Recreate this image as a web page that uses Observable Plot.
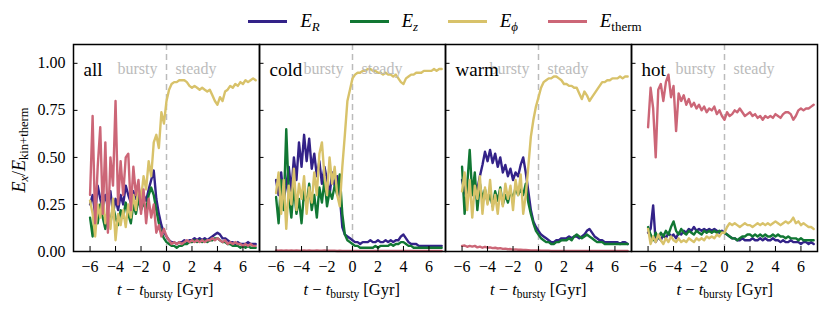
<!DOCTYPE html>
<html><head><meta charset="utf-8">
<script src="https://cdn.jsdelivr.net/npm/d3@7"></script>
<script src="https://cdn.jsdelivr.net/npm/@observablehq/plot@0.6"></script>
<style>
body{margin:0;background:#fff;font-family:"Liberation Serif","DejaVu Serif",serif;color:#000;}
#wrap{position:relative;width:830px;height:312px;overflow:hidden;}
#legend{position:relative;height:40px;width:746px;margin-left:72px;display:flex;justify-content:center;align-items:center;font-size:18.5px;padding-top:2px;box-sizing:border-box;}
.item{display:flex;align-items:center;margin:0 15px;}
.sw{display:inline-block;width:39px;height:3px;margin-right:13px;}
sub{font-size:70%;vertical-align:-0.3em;line-height:0;}
.xl{position:absolute;top:280px;font-size:16.5px;transform:translateX(-50%);white-space:nowrap;}
#yl{position:absolute;left:19px;top:150px;font-size:18px;white-space:nowrap;transform:translate(-50%,-50%) rotate(-90deg);}
svg{display:block;}
</style></head>
<body><div id="wrap"><div id="legend"></div><div id="chart"></div></div>
<script>
const t = [-6,-5.8,-5.6,-5.4,-5.2,-5,-4.8,-4.6,-4.4,-4.2,
 -4,-3.8,-3.6,-3.4,-3.2,-3,-2.8,-2.6,-2.4,-2.2,
 -2,-1.8,-1.6,-1.4,-1.2,-1,-0.8,-0.6,-0.4,-0.2,
 0,0.2,0.4,0.6,0.8,1,1.2,1.4,1.6,1.8,
 2,2.2,2.4,2.6,2.8,3,3.2,3.4,3.6,3.8,
 4,4.2,4.4,4.6,4.8,5,5.2,5.4,5.6,5.8,
 6,6.2,6.4,6.6,6.8,7];
const panels = ["all","cold","warm","hot"];
const comps = ["E_R","E_z","E_phi","E_therm"];
const colors = ["#332288","#117733","#d8c26a","#cc6677"];
const yTicks = [0,0.25,0.5,0.75,1.0];
const xTicks = [-6,-4,-2,0,2,4,6];

const allR = [0.25,0.30,0.20,0.35,0.28,0.22,0.30,0.25,0.32,0.20,
 0.28,0.22,0.30,0.25,0.35,0.30,0.26,0.32,0.28,0.30,
 0.26,0.30,0.27,0.33,0.38,0.43,0.28,0.20,0.14,0.10,
 0.08,0.06,0.05,0.05,0.04,0.05,0.05,0.06,0.05,0.06,
 0.06,0.07,0.06,0.07,0.06,0.07,0.06,0.07,0.08,0.09,
 0.10,0.09,0.07,0.07,0.06,0.05,0.05,0.04,0.05,0.04,
 0.04,0.04,0.05,0.04,0.04,0.04];
const allZ = [0.18,0.08,0.22,0.15,0.25,0.18,0.12,0.20,0.15,0.24,
 0.18,0.14,0.22,0.18,0.26,0.20,0.15,0.25,0.20,0.28,
 0.22,0.26,0.22,0.30,0.34,0.30,0.22,0.15,0.10,0.07,
 0.05,0.04,0.03,0.03,0.02,0.03,0.03,0.04,0.04,0.05,
 0.05,0.06,0.05,0.06,0.05,0.06,0.05,0.06,0.06,0.07,
 0.07,0.06,0.05,0.05,0.04,0.04,0.03,0.03,0.03,0.02,
 0.03,0.02,0.03,0.02,0.02,0.02];
const allPhi = [0.27,0.20,0.08,0.25,0.18,0.30,0.15,0.22,0.12,0.28,
 0.06,0.20,0.14,0.22,0.13,0.25,0.18,0.30,0.22,0.35,
 0.28,0.40,0.33,0.48,0.40,0.58,0.62,0.55,0.74,0.68,
 0.80,0.86,0.89,0.90,0.90,0.91,0.91,0.91,0.90,0.88,
 0.87,0.88,0.87,0.86,0.87,0.86,0.85,0.86,0.83,0.80,
 0.78,0.82,0.80,0.85,0.86,0.88,0.87,0.89,0.88,0.90,
 0.89,0.91,0.90,0.91,0.92,0.91];
const allTherm = [0.30,0.72,0.15,0.45,0.66,0.20,0.58,0.10,0.50,0.35,
 0.80,0.25,0.48,0.30,0.50,0.52,0.22,0.45,0.30,0.38,
 0.20,0.33,0.15,0.28,0.18,0.25,0.10,0.14,0.08,0.12,
 0.08,0.06,0.04,0.05,0.04,0.05,0.04,0.05,0.06,0.05,
 0.06,0.05,0.06,0.05,0.06,0.05,0.06,0.06,0.07,0.06,
 0.07,0.06,0.05,0.06,0.04,0.05,0.04,0.05,0.04,0.04,
 0.03,0.04,0.03,0.04,0.03,0.03];

const coldR = [0.38,0.30,0.42,0.28,0.35,0.45,0.32,0.50,0.38,0.58,
 0.45,0.62,0.48,0.60,0.44,0.52,0.40,0.48,0.36,0.45,
 0.38,0.30,0.42,0.35,0.40,0.30,0.13,0.09,0.08,0.07,
 0.06,0.05,0.05,0.04,0.05,0.05,0.05,0.06,0.05,0.05,
 0.06,0.05,0.05,0.06,0.05,0.06,0.05,0.06,0.06,0.08,
 0.09,0.07,0.05,0.04,0.04,0.04,0.03,0.03,0.03,0.03,
 0.03,0.03,0.03,0.03,0.03,0.03];
const coldZ = [0.29,0.15,0.38,0.22,0.65,0.30,0.18,0.35,0.20,0.28,
 0.15,0.32,0.25,0.36,0.22,0.30,0.18,0.34,0.26,0.38,
 0.24,0.32,0.28,0.35,0.30,0.41,0.20,0.09,0.06,0.05,
 0.04,0.03,0.03,0.02,0.02,0.02,0.02,0.02,0.02,0.03,
 0.02,0.03,0.03,0.03,0.03,0.04,0.03,0.04,0.04,0.05,
 0.05,0.04,0.03,0.03,0.02,0.02,0.02,0.02,0.02,0.02,
 0.02,0.02,0.02,0.02,0.02,0.02];
const coldPhi = [0.31,0.42,0.20,0.38,0.12,0.35,0.25,0.44,0.22,0.36,
 0.28,0.40,0.20,0.34,0.26,0.42,0.30,0.52,0.58,0.40,
 0.30,0.50,0.36,0.45,0.30,0.24,0.45,0.62,0.80,0.86,
 0.92,0.94,0.95,0.95,0.96,0.96,0.97,0.97,0.96,0.96,
 0.95,0.95,0.94,0.95,0.94,0.94,0.93,0.94,0.92,0.90,
 0.89,0.92,0.93,0.94,0.94,0.95,0.95,0.95,0.96,0.96,
 0.96,0.96,0.97,0.96,0.97,0.97];
const coldTherm = [0.005,0.004,0.005,0.004,0.005,0.004,0.005,0.004,0.005,0.004,
 0.004,0.005,0.004,0.005,0.004,0.004,0.005,0.004,0.004,0.005,
 0.004,0.004,0.004,0.004,0.003,0.004,0.003,0.003,0.003,0.003,
 0.003,0.003,0.003,0.003,0.003,0.003,0.003,0.003,0.003,0.003,
 0.003,0.003,0.003,0.003,0.003,0.003,0.003,0.003,0.003,0.003,
 0.003,0.003,0.003,0.003,0.003,0.003,0.003,0.003,0.003,0.003,
 0.003,0.003,0.003,0.003,0.003,0.003];

const warmR = [0.38,0.32,0.28,0.35,0.30,0.36,0.33,0.40,0.46,0.53,
 0.48,0.54,0.47,0.52,0.45,0.50,0.42,0.46,0.40,0.44,
 0.38,0.42,0.40,0.46,0.50,0.42,0.32,0.22,0.16,0.13,
 0.11,0.09,0.08,0.07,0.06,0.05,0.05,0.06,0.06,0.07,
 0.07,0.07,0.08,0.07,0.08,0.08,0.07,0.08,0.09,0.11,
 0.12,0.10,0.08,0.07,0.06,0.06,0.05,0.05,0.05,0.05,
 0.05,0.05,0.04,0.05,0.05,0.04];
const warmZ = [0.45,0.20,0.35,0.54,0.30,0.42,0.22,0.36,0.28,0.33,
 0.26,0.30,0.24,0.32,0.27,0.34,0.25,0.30,0.26,0.32,
 0.28,0.34,0.30,0.33,0.30,0.36,0.26,0.20,0.15,0.11,
 0.09,0.07,0.06,0.05,0.05,0.04,0.04,0.05,0.05,0.06,
 0.06,0.06,0.07,0.06,0.08,0.09,0.08,0.07,0.08,0.09,
 0.08,0.07,0.06,0.05,0.05,0.05,0.04,0.04,0.04,0.04,
 0.04,0.04,0.04,0.04,0.04,0.04];
const warmPhi = [0.32,0.42,0.22,0.38,0.18,0.35,0.28,0.40,0.20,0.34,
 0.25,0.38,0.22,0.30,0.20,0.33,0.24,0.36,0.28,0.35,
 0.22,0.38,0.30,0.41,0.20,0.30,0.45,0.61,0.70,0.77,
 0.82,0.87,0.90,0.91,0.92,0.92,0.93,0.93,0.92,0.91,
 0.89,0.89,0.88,0.88,0.87,0.87,0.84,0.81,0.85,0.83,
 0.80,0.82,0.84,0.86,0.88,0.90,0.90,0.91,0.91,0.92,
 0.92,0.92,0.93,0.92,0.93,0.93];
const warmTherm = [0.030,0.032,0.025,0.030,0.026,0.030,0.022,0.026,0.020,0.025,
 0.020,0.022,0.018,0.020,0.016,0.018,0.014,0.015,0.012,0.013,
 0.010,0.011,0.009,0.009,0.008,0.008,0.007,0.006,0.006,0.005,
 0.005,0.004,0.004,0.004,0.004,0.003,0.003,0.003,0.003,0.003,
 0.003,0.003,0.003,0.003,0.003,0.003,0.003,0.003,0.003,0.003,
 0.003,0.003,0.003,0.003,0.003,0.003,0.003,0.003,0.003,0.003,
 0.003,0.003,0.003,0.003,0.003,0.003];

const hotR = [0.10,0.12,0.245,0.05,0.08,0.06,0.09,0.07,0.10,0.08,
 0.09,0.07,0.10,0.09,0.11,0.10,0.12,0.11,0.13,0.11,
 0.12,0.11,0.12,0.11,0.12,0.11,0.12,0.11,0.10,0.11,
 0.10,0.09,0.08,0.07,0.07,0.06,0.06,0.07,0.06,0.06,
 0.06,0.07,0.06,0.06,0.07,0.06,0.07,0.06,0.06,0.07,
 0.06,0.06,0.05,0.06,0.05,0.05,0.06,0.05,0.05,0.05,
 0.04,0.05,0.05,0.04,0.05,0.04];
const hotZ = [0.13,0.09,0.06,0.10,0.07,0.10,0.08,0.11,0.09,0.13,
 0.16,0.11,0.09,0.12,0.10,0.09,0.11,0.10,0.09,0.11,
 0.10,0.09,0.11,0.10,0.11,0.10,0.11,0.10,0.11,0.10,
 0.10,0.09,0.08,0.07,0.07,0.06,0.07,0.08,0.08,0.09,
 0.09,0.08,0.09,0.08,0.09,0.08,0.09,0.08,0.08,0.09,
 0.08,0.09,0.08,0.08,0.07,0.08,0.07,0.07,0.07,0.06,
 0.07,0.06,0.06,0.06,0.06,0.06];
const hotPhi = [0.12,0.04,0.08,0.05,0.09,0.06,0.04,0.07,0.05,0.08,
 0.06,0.05,0.07,0.05,0.06,0.05,0.07,0.06,0.05,0.07,
 0.06,0.07,0.06,0.08,0.07,0.08,0.07,0.09,0.08,0.10,
 0.10,0.13,0.15,0.14,0.15,0.14,0.13,0.14,0.15,0.14,
 0.14,0.13,0.14,0.15,0.14,0.15,0.14,0.15,0.14,0.15,
 0.16,0.15,0.14,0.15,0.16,0.15,0.16,0.18,0.15,0.16,
 0.14,0.15,0.14,0.13,0.13,0.12];
const hotTherm = [0.66,0.87,0.76,0.50,0.86,0.89,0.80,0.90,0.94,0.82,
 0.88,0.64,0.84,0.80,0.83,0.78,0.81,0.77,0.79,0.76,
 0.78,0.75,0.77,0.74,0.76,0.75,0.77,0.73,0.75,0.72,
 0.70,0.74,0.72,0.73,0.75,0.74,0.76,0.74,0.72,0.73,
 0.74,0.72,0.73,0.71,0.72,0.70,0.72,0.71,0.72,0.71,
 0.73,0.72,0.71,0.73,0.74,0.74,0.73,0.70,0.72,0.75,
 0.76,0.75,0.76,0.76,0.77,0.78];

const seriesByPanel = {
  all: [allR, allZ, allPhi, allTherm],
  cold: [coldR, coldZ, coldPhi, coldTherm],
  warm: [warmR, warmZ, warmPhi, warmTherm],
  hot: [hotR, hotZ, hotPhi, hotTherm]
};
const rows = panels.flatMap(p => seriesByPanel[p].flatMap((arr, k) =>
  arr.map((v, i) => ({panel: p, comp: comps[k], t: t[i], v}))));

// legend
const legendHTML = ['<i>E</i><sub><i>R</i></sub>', '<i>E</i><sub><i>z</i></sub>',
  '<i>E</i><sub><i>ϕ</i></sub>', '<i>E</i><sub>therm</sub>'];
document.getElementById("legend").innerHTML = comps.map((c, k) =>
  `<span class="item"><span class="sw" style="background:${colors[k]}"></span><span>${legendHTML[k]}</span></span>`).join("");

const W = 830, H = 272, ML = 72, MR = 12, MT = 4, MB = 61;
const facetW = (W - ML - MR) / panels.length;
const facetH = H - MT - MB;

const chart = Plot.plot({
  width: W, height: H, marginLeft: ML, marginRight: MR, marginTop: MT, marginBottom: MB,
  style: {fontFamily: '"Liberation Serif", "DejaVu Serif", serif', fontSize: "16px", color: "black", background: "white"},
  fx: {domain: panels, padding: 0, axis: null},
  x: {domain: [-7.3, 7.3]},
  y: {domain: [0, 1.1]},
  color: {domain: comps, range: colors},
  marks: [
    Plot.ruleX([0], {stroke: "#bbbbbb", strokeWidth: 1.5, strokeDasharray: "6,4"}),
    Plot.line(rows, {x: "t", y: "v", z: "comp", stroke: "comp", fx: "panel", strokeWidth: 2.4}),
    Plot.tickX(xTicks, {x: d => d, insetTop: facetH - 5, stroke: "black", strokeWidth: 1}),
    Plot.tickY(yTicks, {y: d => d, insetRight: facetW - 5, stroke: "black", strokeWidth: 1}),
    Plot.axisX({ticks: xTicks, tickSize: 0, tickPadding: 9, tickFormat: d3.format("d"), label: null, fontSize: 16}),
    Plot.axisY({ticks: yTicks, tickSize: 0, tickPadding: 8, tickFormat: d3.format(".2f"), label: null, fontSize: 16}),
    Plot.text(panels, {fx: d => d, x: () => 0, text: () => "bursty", frameAnchor: "top", dx: -9, dy: 18, textAnchor: "end", fill: "#bbbbbb", fontSize: 16}),
    Plot.text(panels, {fx: d => d, x: () => 0, text: () => "steady", frameAnchor: "top", dx: 9, dy: 18, textAnchor: "start", fill: "#bbbbbb", fontSize: 16}),
    Plot.text(panels, {fx: d => d, text: d => d, frameAnchor: "top-left", dx: 10, dy: 18, textAnchor: "start", fill: "black", fontSize: 19}),
    Plot.frame({stroke: "black", strokeWidth: 1.5})
  ]
});
const wrap = document.getElementById("wrap");
document.getElementById("chart").appendChild(chart);

panels.forEach((p, k) => {
  const d = document.createElement("div");
  d.className = "xl";
  d.style.left = (ML + facetW * (k + 0.5)) + "px";
  d.innerHTML = '<i>t</i> − <i>t</i><sub>bursty</sub> [Gyr]';
  wrap.appendChild(d);
});
const yl = document.createElement("div");
yl.id = "yl";
yl.innerHTML = '<i>E<sub>x</sub></i>/<i>E</i><sub>kin+therm</sub>';
wrap.appendChild(yl);
</script></body></html>
